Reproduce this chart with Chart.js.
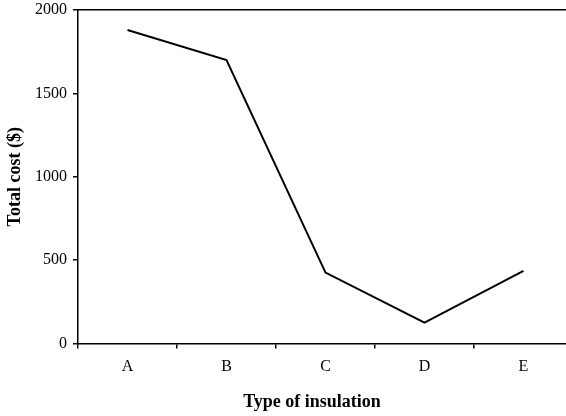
<!DOCTYPE html>
<html>
<head>
<meta charset="utf-8">
<script src="https://cdn.jsdelivr.net/npm/chart.js@4/dist/chart.umd.min.js"></script>
<style>
  html, body { margin: 0; padding: 0; background: #fff; overflow: hidden; }
  #wrap { width: 580px; height: 416px; }
</style>
</head>
<body>
<div id="wrap"><canvas id="cost-chart" width="580" height="416"></canvas></div>
<script>
const insulationTypes = ['A', 'B', 'C', 'D', 'E'];
const totalCost = [1880, 1700, 425, 125, 435];
const costTicks = [0, 500, 1000, 1500, 2000];

const serif = '"Liberation Serif", "Times New Roman", serif';
const ctx = document.getElementById('cost-chart').getContext('2d');

new Chart(ctx, {
  type: 'line',
  data: {
    labels: insulationTypes,
    datasets: [
      {
        label: 'Total cost',
        data: totalCost,
        borderColor: '#000',
        borderWidth: 2,
        pointRadius: 0,
        tension: 0,
        fill: false
      }
    ]
  },
  options: {
    responsive: false,
    animation: false,
    layout: { padding: { left: 0, right: 7, top: 10, bottom: 0 } },
    plugins: { legend: { display: false }, tooltip: { enabled: false } },
    scales: {
      x: {
        offset: true,
        grid: { offset: true, drawOnChartArea: false, tickLength: 5, color: '#000', lineWidth: 1.5 },
        border: { color: '#000', width: 1.5 },
        ticks: { color: '#000', padding: 9, font: { family: serif, size: 16 } },
        title: {
          display: true,
          // trailing spaces pull the title a little left, as in the original
          text: 'Type of insulation\u00a0\u00a0\u00a0\u00a0\u00a0\u00a0',
          color: '#000',
          padding: { top: 0, bottom: 3 },
          font: { family: serif, size: 18, weight: 'bold' }
        },
        afterFit: scale => {
          scale.height = 72.5;
          scale.paddingLeft = 0;
          scale.paddingRight = 0;
        }
      },
      x2: {
        position: 'top',
        labels: insulationTypes,
        grid: { drawOnChartArea: false, drawTicks: false },
        border: { color: '#000', width: 1.5 },
        ticks: { display: false },
        afterFit: scale => { scale.height = 0; }
      },
      y: {
        min: 0,
        max: 2000,
        afterBuildTicks: scale => { scale.ticks = costTicks.map(v => ({ value: v })); },
        grid: { drawOnChartArea: false, tickLength: 5, color: '#000', lineWidth: 1.5 },
        border: { color: '#000', width: 1.5 },
        ticks: { color: '#000', padding: 6, font: { family: serif, size: 16 }, callback: v => String(v) },
        title: {
          display: true,
          text: 'Total cost ($)',
          color: '#000',
          padding: { top: 5, bottom: 0 },
          font: { family: serif, size: 18, weight: 'bold' }
        },
        afterFit: scale => {
          scale.width = 78;
          scale.paddingTop = 0;
          scale.paddingBottom = 0;
        }
      }
    }
  }
});
</script>
</body>
</html>
